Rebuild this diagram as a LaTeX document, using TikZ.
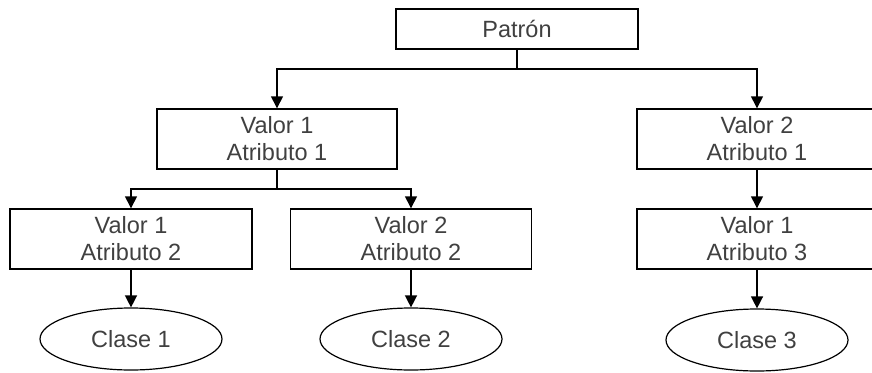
\documentclass[tikz,border=0pt]{standalone}
\usepackage{fontspec}
\setmainfont{Liberation Sans}
\usetikzlibrary{arrows.meta,shapes.geometric}
\definecolor{txt}{HTML}{404040}
\tikzset{
  box/.style={draw=black, line width=1.4pt, rectangle, minimum height=60pt, inner sep=0pt, align=center, text=txt, font=\fontsize{23.5}{27}\selectfont},
  cls/.style={draw=black, line width=1.2pt, ellipse, minimum width=182pt, minimum height=62pt, inner sep=0pt, text=txt, font=\fontsize{23.5}{27}\selectfont},
  conn/.style={line width=1.4pt, draw=black},
  arr/.style={conn, -{Triangle[length=12pt,width=12pt]}}
}
\begin{document}
\begin{tikzpicture}[x=1pt,y=-1pt]
\useasboundingbox (0,0) rectangle (872,372);
\node[box, minimum width=242pt, minimum height=40pt] (pat) at (517,29) {Patrón};
\node[box, minimum width=240pt] (v1a1) at (277,139) {Valor 1\\Atributo 1};
\node[box, minimum width=240pt] (v2a1) at (757,139) {Valor 2\\Atributo 1};
\node[box, minimum width=242pt] (v1a2) at (131,239) {Valor 1\\Atributo 2};
\node[box, minimum width=241pt] (v2a2) at (411,239) {Valor 2\\Atributo 2};
\node[box, minimum width=240pt] (v1a3) at (757,239) {Valor 1\\Atributo 3};
\node[cls] (c1) at (131,339) {Clase 1};
\node[cls] (c2) at (411,339) {Clase 2};
\node[cls] (c3) at (757,340) {Clase 3};
\coordinate (j1) at (517,69);
\coordinate (j2) at (277,189);
\draw[conn] (pat.south) -- (j1);
\draw[arr] (j1) -| (v1a1.north);
\draw[arr] (j1) -| (v2a1.north);
\draw[conn] (v1a1.south) -- (j2);
\draw[arr] (j2) -| (v1a2.north);
\draw[arr] (j2) -| (v2a2.north);
\draw[arr] (v2a1.south) -- (v1a3.north);
\draw[arr] (v1a2.south) -- (c1.north);
\draw[arr] (v2a2.south) -- (c2.north);
\draw[arr] (v1a3.south) -- (c3.north);
\end{tikzpicture}
\end{document}
